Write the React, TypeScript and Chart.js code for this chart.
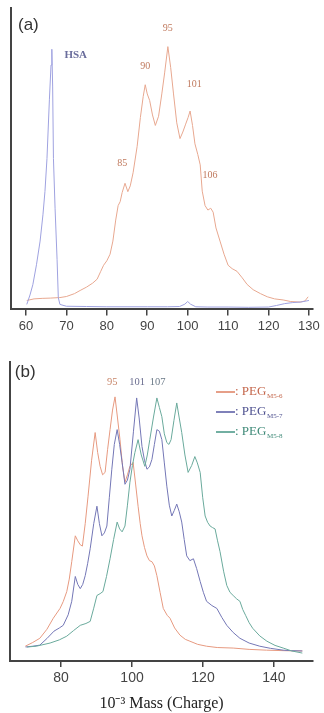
import React, { useEffect, useRef } from "react";
import { Chart, registerables } from "chart.js";

Chart.register(...registerables);

// ---------- Panel (a) ----------
const A_TICKS = [60, 70, 80, 90, 100, 110, 120, 130];
const A_PEG_MASS = [60.2, 62, 64, 66, 68.4, 70, 72, 73.4, 75, 76.5, 77.6, 78.5, 79.2, 80, 80.8, 81.5, 82.2, 82.8, 83.3, 83.8, 84.5, 85.2, 85.8, 86.5, 87.5, 88.3, 89, 89.5, 90, 90.6, 91.3, 92, 92.8, 93.6, 94.3, 95.1, 95.8, 96.5, 97.3, 98.1, 98.8, 99.5, 100.1, 100.6, 101.2, 101.8, 102.5, 103.1, 103.6, 104.3, 105, 105.7, 106.3, 107, 108, 109, 110, 111, 112.2, 113.5, 114.7, 116.2, 118, 119.7, 121.5, 123.6, 125.5, 127.8, 129, 129.8];
const A_PEG_INT = [3.4, 4.0, 4.2, 4.3, 4.5, 4.9, 6.0, 7.2, 8.5, 10.0, 11.5, 14.5, 16.8, 18.5, 21.0, 26.0, 34.0, 39.5, 41.0, 44.5, 48.0, 44.8, 47.0, 52.0, 62.0, 73.0, 81.0, 85.5, 82.0, 79.5, 74.0, 70.0, 73.5, 82.0, 90.0, 100.0, 92.0, 82.0, 71.0, 65.0, 67.5, 70.5, 73.0, 75.5, 70.0, 63.0, 59.0, 55.0, 45.0, 39.5, 37.8, 38.5, 37.0, 31.0, 26.0, 21.0, 16.8, 15.5, 14.5, 12.0, 9.5, 7.5, 6.0, 4.8, 4.0, 3.6, 3.0, 2.8, 3.2, 4.8];
const A_HSA_MASS = [60.2, 61, 61.7, 62.6, 63.5, 64.2, 64.7, 65.2, 65.8, 66.2, 66.4, 66.6, 66.8, 67.2, 67.7, 68, 68.4, 70, 75, 80, 85, 90, 95, 98, 99.3, 100, 100.7, 102, 105, 110, 115, 120, 122, 124, 126, 128, 130];
const A_HSA_INT = [1.9, 5.5, 9.4, 17, 26, 36, 44.9, 57.4, 80, 93, 99, 85, 57.4, 38.5, 18.9, 4.5, 1.9, 1.2, 1.1, 1.0, 1.0, 1.0, 1.0, 1.1, 2.0, 3.0, 2.0, 1.0, 0.9, 0.9, 0.8, 0.9, 1.5, 2.2, 2.6, 2.8, 3.4];
const A_LABEL_TEXT = ["(a)", "HSA", "95", "90", "101", "85", "106"];
const A_LABEL_MASS = [60.6, 72.3, 95.1, 89.5, 101.6, 83.8, 105.5];
const A_LABEL_INT = [108.3, 96.6, 107, 92.5, 85.7, 55.5, 51];

// ---------- Panel (b) ----------
const B_TICKS = [80, 100, 120, 140];
const B_RED_MASS = [69.9, 72, 74, 76, 77.8, 79.7, 80.6, 81.6, 82.3, 83, 84, 84.7, 85.4, 86, 86.8, 87.6, 88.6, 89.6, 90.3, 91, 91.7, 92.4, 93.1, 93.8, 94.5, 95.2, 95.9, 96.6, 97.3, 98, 98.7, 99.4, 100.3, 101, 101.7, 102.3, 102.8, 103.5, 104.2, 104.9, 105.6, 106.3, 107, 107.9, 108.8, 109.9, 110.7, 112, 113.5, 115, 116.3, 118.5, 121, 124, 128.5, 133, 137.9, 143, 148];
const B_RED_INT = [5.6, 7.0, 8.6, 12.0, 16.2, 19.9, 22.5, 26.3, 31.0, 37.6, 47.4, 45.5, 44.0, 43.5, 52.0, 62.4, 76.0, 86.5, 79.0, 73.7, 70.5, 71.4, 80.0, 87.6, 95.0, 100, 92.0, 83.8, 74.0, 67.7, 70.5, 73.7, 75.2, 67.0, 58.6, 52.0, 47.4, 43.0, 39.8, 38.0, 37.6, 36.0, 32.3, 26.0, 19.9, 17.3, 16.2, 12.5, 9.8, 8.2, 7.5, 6.3, 5.6, 5.1, 4.9, 4.4, 4.1, 3.9, 3.8];
const B_BLUE_MASS = [70, 72, 74, 76, 78, 79.5, 80.6, 82, 83, 84, 84.7, 85.4, 86.1, 86.8, 87.5, 88.2, 89.2, 90.1, 90.8, 91.5, 92.2, 92.9, 93.6, 94.3, 95, 95.8, 96.5, 97.2, 98, 98.7, 99.4, 100.4, 101.3, 102, 102.8, 103.5, 104.2, 104.9, 105.6, 106.3, 107, 107.7, 108.4, 109.1, 109.8, 110.5, 111.2, 111.9, 112.6, 113.3, 114, 114.7, 115.4, 116.3, 117.3, 118.2, 119.2, 120.1, 121, 122.5, 123.9, 125.3, 126.7, 128.5, 130.4, 133, 136, 139, 142.6, 145, 148];
const B_BLUE_INT = [5.3, 5.6, 6.0, 8.5, 11.3, 12.5, 13.5, 17.5, 22.6, 32.0, 29.0, 27.4, 29.0, 32.3, 37.0, 42.5, 52.0, 58.6, 52.0, 47.4, 48.5, 51.1, 62.0, 72.6, 82.0, 87.6, 82.0, 75.2, 66.9, 68.5, 72.6, 87.0, 99.6, 92.0, 81.2, 76.0, 72.6, 73.5, 76.3, 82.0, 87.6, 87.0, 83.8, 75.0, 66.2, 59.0, 54.9, 57.0, 59.4, 56.5, 52.6, 46.0, 39.8, 38.0, 38.7, 35.0, 30.1, 26.0, 22.6, 21.0, 19.9, 16.5, 13.5, 10.8, 8.6, 6.8, 5.6, 4.8, 4.1, 3.9, 3.8];
const B_GREEN_MASS = [70.4, 73, 76.9, 79.5, 81.6, 83.5, 85.4, 87, 88.2, 89.2, 90.1, 91, 91.8, 92.8, 93.8, 94.8, 95.8, 96.5, 97.2, 98, 98.7, 99.4, 100.1, 100.8, 101.7, 102.6, 103.6, 104.3, 105, 106, 107, 107.7, 108.4, 109.1, 109.8, 110.4, 111, 111.8, 112.6, 113.3, 114, 114.9, 115.8, 116.8, 117.7, 118.4, 119.2, 119.9, 120.6, 121.3, 122, 122.7, 123.4, 124.1, 124.8, 125.8, 126.7, 127.6, 128.5, 129.5, 130.4, 131.2, 132, 133, 134, 136, 138, 140.3, 142.6, 145, 148];
const B_GREEN_INT = [5.3, 5.6, 6.8, 8.0, 9.4, 11.5, 13.5, 14.2, 15.0, 20.0, 24.8, 25.5, 26.3, 32.0, 38.7, 46.0, 52.6, 50.0, 48.9, 51.1, 59.0, 67.7, 74.0, 78.9, 83.8, 78.0, 73.7, 78.0, 83.8, 92.0, 99.6, 96.0, 92.5, 86.0, 82.7, 82.0, 83.8, 91.0, 97.7, 92.0, 86.5, 78.0, 71.4, 74.0, 77.4, 75.0, 71.4, 62.0, 54.9, 52.5, 51.1, 50.5, 50.0, 45.5, 41.4, 34.0, 28.6, 26.0, 24.8, 23.5, 22.6, 19.5, 17.3, 14.5, 12.4, 9.5, 7.5, 5.9, 4.9, 3.8, 3.0];
const B_LABEL_TEXT = ["(b)", "95", "101", "107"];
const B_LABEL_MASS = [69.9, 94.4, 101.4, 107.2];
const B_LABEL_INT = [109.4, 105.6, 105.6, 105.6];
const B_SERIES_NAMES = ["M5-6", "M5-7", "M5-8"];
const X_TITLE = "10\u207B\u00B3 Mass (Charge)";

const AXIS = "#444";
const SANS = "'Liberation Sans', Arial, sans-serif";
const SERIF = "'Liberation Serif', 'Times New Roman', serif";

const toPts = (xs: number[], ys: number[]) => xs.map((x, i) => ({ x, y: ys[i] }));

const textPlugin = {
  id: "peakText",
  afterDatasetsDraw(chart: any, _args: any, opts: any) {
    const { ctx, scales } = chart;
    const xs = scales.x;
    const ys = scales.y;
    (opts.labels || []).forEach((l: any) => {
      ctx.save();
      ctx.font = l.font;
      ctx.fillStyle = l.color;
      ctx.textAlign = "center";
      ctx.textBaseline = "middle";
      ctx.fillText(l.text, xs.getPixelForValue(l.x), ys.getPixelForValue(l.y));
      ctx.restore();
    });
    if (opts.legend) {
      const { right, top } = chart.chartArea;
      opts.legend.forEach((it: any, i: number) => {
        const y = top + 30 + i * 20;
        ctx.save();
        ctx.strokeStyle = it.color;
        ctx.lineWidth = 1.6;
        ctx.beginPath();
        ctx.moveTo(right - 97, y);
        ctx.lineTo(right - 78, y);
        ctx.stroke();
        ctx.fillStyle = it.text;
        ctx.textBaseline = "middle";
        ctx.textAlign = "left";
        ctx.font = `13px ${SERIF}`;
        const main = ": PEG";
        ctx.fillText(main, right - 78, y);
        const w = ctx.measureText(main).width;
        ctx.font = `7px ${SERIF}`;
        ctx.fillText(it.sub, right - 78 + w + 0.5, y + 4);
        ctx.restore();
      });
    }
  },
};

function baseOptions(min: number, max: number, ymax: number, ticks: number[], padding: any, tickSize: number, title?: string) {
  return {
    animation: false,
    responsive: false,
    devicePixelRatio: 1,
    layout: { padding },
    elements: { point: { radius: 0 }, line: { borderWidth: 1, tension: 0 } },
    plugins: { legend: { display: false }, tooltip: { enabled: false } },
    scales: {
      x: {
        type: "linear",
        min,
        max,
        afterBuildTicks: (s: any) => {
          s.ticks = ticks.map((v) => ({ value: v }));
        },
        ticks: { font: { family: SANS, size: tickSize }, color: "#444", padding: 3, maxRotation: 0, autoSkip: false, callback: (v: any) => String(v) },
        grid: { display: true, drawOnChartArea: false, drawTicks: true, tickLength: 6, color: AXIS, lineWidth: 1.5 },
        border: { display: true, color: AXIS, width: 2 },
        title: title
          ? { display: true, text: title, font: { family: SERIF, size: 16 }, color: "#222", padding: { top: 4, bottom: 0 } }
          : { display: false },
      },
      y: {
        type: "linear",
        min: 0,
        max: ymax,
        ticks: { display: false },
        grid: { display: false, drawTicks: false },
        border: { display: true, color: AXIS, width: 2 },
      },
    },
  } as any;
}

export default function App() {
  const refA = useRef<HTMLCanvasElement>(null);
  const refB = useRef<HTMLCanvasElement>(null);

  useEffect(() => {
    const optsA = baseOptions(56.3, 131, 114.7, A_TICKS, { left: 11, right: 11, top: 8, bottom: 3 }, 13);
    optsA.plugins.peakText = {
      labels: A_LABEL_TEXT.map((t, i) => ({
        text: t,
        x: A_LABEL_MASS[i],
        y: A_LABEL_INT[i],
        font: i === 0 ? `17px ${SANS}` : i === 1 ? `bold 11px ${SERIF}` : `10px ${SERIF}`,
        color: i === 0 ? "#333" : i === 1 ? "#6a6d9c" : "#c07a5e",
      })),
    };
    const chartA = new Chart(refA.current as HTMLCanvasElement, {
      type: "line",
      data: {
        datasets: [
          { data: toPts(A_HSA_MASS, A_HSA_INT), borderColor: "#9fa2e0", borderWidth: 1 },
          { data: toPts(A_PEG_MASS, A_PEG_INT), borderColor: "#e8a890", borderWidth: 1 },
        ],
      },
      options: optsA,
      plugins: [textPlugin],
    } as any);

    const optsB = baseOptions(65.6, 151, 113.2, B_TICKS, { left: 10, right: 11, top: 22, bottom: 0 }, 14, X_TITLE);
    const labelColors = ["#333", "#c8866a", "#6b6e90", "#6b7a88"];
    optsB.plugins.peakText = {
      labels: B_LABEL_TEXT.map((t, i) => ({
        text: t,
        x: B_LABEL_MASS[i],
        y: B_LABEL_INT[i],
        font: i === 0 ? `17px ${SANS}` : `10.5px ${SERIF}`,
        color: labelColors[i],
      })),
      legend: [
        { color: "#e0876a", text: "#c4674c", sub: B_SERIES_NAMES[0] },
        { color: "#5f62a8", text: "#4f5290", sub: B_SERIES_NAMES[1] },
        { color: "#4f9c8b", text: "#3f8a78", sub: B_SERIES_NAMES[2] },
      ],
    };
    const chartB = new Chart(refB.current as HTMLCanvasElement, {
      type: "line",
      data: {
        datasets: [
          { data: toPts(B_GREEN_MASS, B_GREEN_INT), borderColor: "#6aaa9c", borderWidth: 1 },
          { data: toPts(B_BLUE_MASS, B_BLUE_INT), borderColor: "#7477b6", borderWidth: 1 },
          { data: toPts(B_RED_MASS, B_RED_INT), borderColor: "#e79a80", borderWidth: 1 },
        ],
      },
      options: optsB,
      plugins: [textPlugin],
    } as any);

    return () => {
      chartA.destroy();
      chartB.destroy();
    };
  }, []);

  return (
    <div style={{ position: "absolute", left: 0, top: 0, width: 324, height: 713, background: "#fff" }}>
      <canvas ref={refA} width={324} height={340} style={{ display: "block", width: 324, height: 340 }} />
      <canvas ref={refB} width={324} height={373} style={{ display: "block", width: 324, height: 373 }} />
    </div>
  );
}
